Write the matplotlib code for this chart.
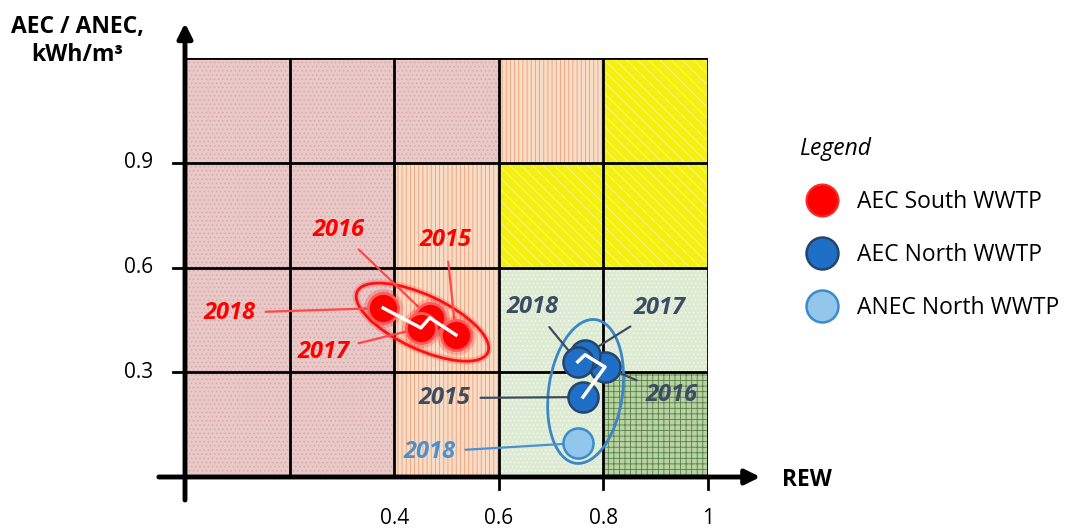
import numpy as np
import matplotlib
matplotlib.use("Agg")
import matplotlib.pyplot as plt
from matplotlib.patches import Ellipse
from matplotlib.lines import Line2D
import matplotlib.transforms as mtransforms

plt.rcParams['font.family'] = ['Open Sans', 'DejaVu Sans']
plt.rcParams['hatch.linewidth'] = 0.6

# grid of zones (rows from bottom, columns from left)
x_edges = [0.0, 0.2, 0.4, 0.6, 0.8, 1.0]
y_edges = [0.0, 0.3, 0.6, 0.9, 1.2]
zones = [
    ["P", "P", "O", "G", "D"],
    ["P", "P", "O", "G", "G"],
    ["P", "P", "O", "Y", "Y"],
    ["P", "P", "P", "O", "Y"],
]
x_ticks = [0.4, 0.6, 0.8, 1.0]
x_tick_labels = ["0.4", "0.6", "0.8", "1"]
y_ticks = [0.3, 0.6, 0.9]
y_tick_labels = ["0.3", "0.6", "0.9"]

# data
years = [2015, 2016, 2017, 2018]
south_rew = [0.518, 0.468, 0.451, 0.379]
south_aec = [0.407, 0.456, 0.427, 0.484]
north_rew = [0.761, 0.803, 0.765, 0.751]
north_aec = [0.229, 0.315, 0.350, 0.330]
anec_years = [2018]
anec_rew = [0.751]
anec_north = [0.097]

zone_style = {
    "P": dict(color="#e9c8c8", hatch="....", edgecolor="#d8a8aa"),
    "O": dict(color="#f8dcc6", hatch="||||", edgecolor="#eb9f78"),
    "Y": dict(color="#f4f010", hatch="\\\\\\", edgecolor="#f8f6a0"),
    "G": dict(color="#dcebd2", hatch="....", edgecolor="#f4f8f0"),
    "D": dict(color="#b9d2a3", hatch="+++", edgecolor="#557f45"),
}

fig = plt.figure(figsize=(10.65, 5.29), dpi=100)
ax = fig.add_axes([185 / 1065, 1 - 477 / 529, (708 - 185) / 1065, (477 - 58) / 529])
ax.set_xlim(0, 1)
ax.set_ylim(0, 1.2)
ax.axis("off")

for r in range(len(zones)):
    for c in range(len(zones[r])):
        st = zone_style[zones[r][c]]
        ax.bar(x_edges[c], y_edges[r + 1] - y_edges[r], width=x_edges[c + 1] - x_edges[c],
               bottom=y_edges[r], align="edge",
               color=st["color"], hatch=st["hatch"], edgecolor=st["edgecolor"],
               linewidth=0, zorder=1)

ax.vlines(x_edges[1:], 0, 1.2, colors="black", lw=2, zorder=2)
ax.hlines(y_edges[1:], 0, 1.0, colors="black", lw=2, zorder=2)

# axes arrows
ax.annotate("", xy=(1.10, 0), xytext=(-0.05, 0), annotation_clip=False,
            arrowprops=dict(arrowstyle="-|>", lw=3.5, color="black", mutation_scale=22,
                            shrinkA=0, shrinkB=0), zorder=5)
ax.annotate("", xy=(0, 1.30), xytext=(0, -0.066), annotation_clip=False,
            arrowprops=dict(arrowstyle="-|>", lw=3.5, color="black", mutation_scale=22,
                            shrinkA=0, shrinkB=0), zorder=5)
for xt in x_ticks[1:]:
    ax.plot([xt, xt], [0, -0.035], color="black", lw=2, clip_on=False, zorder=5)
for yt in y_ticks:
    ax.plot([-0.022, 0], [yt, yt], color="black", lw=2, clip_on=False, zorder=5)
for xt, lab in zip(x_ticks, x_tick_labels):
    ax.text(xt, -0.118, lab, ha="center", va="center", fontsize=15)
for yt, lab in zip(y_ticks, y_tick_labels):
    ax.text(-0.06, yt, lab, ha="right", va="center", fontsize=15)

fig.text(77 / 1065, 1 - 27 / 529, "AEC / ANEC,", ha="center", va="center",
         fontsize=16.5, fontweight="bold")
fig.text(77 / 1065, 1 - 55 / 529, "kWh/m³", ha="center", va="center",
         fontsize=16.5, fontweight="bold")
fig.text(807 / 1065, 1 - 480 / 529, "REW", ha="center", va="center",
         fontsize=16.5, fontweight="bold")

# ellipses (sized in inches, placed in data coordinates)
def add_ellipse(cx, cy, w, h, ang, color, glow):
    trans = fig.dpi_scale_trans + mtransforms.ScaledTranslation(cx, cy, ax.transData)
    if glow:
        ax.add_patch(Ellipse((0, 0), w, h, angle=ang, fill=False, lw=5, ec=color,
                             alpha=0.2, transform=trans, clip_on=False, zorder=3))
    ax.add_patch(Ellipse((0, 0), w, h, angle=ang, fill=False, lw=2, ec=color,
                         transform=trans, clip_on=False, zorder=3))

add_ellipse(np.mean(south_rew), np.mean(south_aec), 1.44, 0.54, -25, "#ff1010", True)
add_ellipse(0.766, 0.245, 0.74, 1.45, -8, "#3a86c8", False)

# points
red = "#ff0000"
ax.scatter(south_rew, south_aec, s=800, color=red, alpha=0.2, lw=0, zorder=4)
ax.scatter(south_rew, south_aec, s=470, color=red, edgecolor="#ff5a5a", lw=2, zorder=4)
ax.plot(south_rew, south_aec, color="white", lw=2.5, zorder=6)

ax.scatter(north_rew, north_aec, s=470, color="#1f6fc6", edgecolor="#24466e", lw=1.8, zorder=4)
ax.plot(north_rew, north_aec, color="white", lw=2.5, zorder=6)
ax.scatter(anec_rew, anec_north, s=470, color="#92c6ea", edgecolor="#3a8ccc", lw=1.8, zorder=4)

# labels
south_lab_pos = [(0.499, 0.679), (0.293, 0.708), (0.264, 0.358), (0.086, 0.470)]
north_lab_pos = [(0.497, 0.226), (0.931, 0.235), (0.908, 0.484), (0.665, 0.487)]
anec_lab_pos = [(0.468, 0.072)]

def label(x, y, tx, ty, text, color, lcolor):
    ax.annotate(text, xy=(x, y), xytext=(tx, ty), ha="center", va="center",
                fontsize=17, fontweight="bold", fontstyle="italic", color=color,
                arrowprops=dict(arrowstyle="-", color=lcolor, lw=1.6,
                                shrinkA=5, shrinkB=2), zorder=3)

for x, y, yr, p in zip(south_rew, south_aec, years, south_lab_pos):
    label(x, y, p[0], p[1], str(yr), "#ff0000", "#ff4848")
for x, y, yr, p in zip(north_rew, north_aec, years, north_lab_pos):
    label(x, y, p[0], p[1], str(yr), "#3c4c62", "#3c4c62")
for x, y, yr, p in zip(anec_rew, anec_north, anec_years, anec_lab_pos):
    label(x, y, p[0], p[1], str(yr), "#4a92cf", "#4a92cf")

# legend
handles = [
    Line2D([], [], ls="", marker="o", ms=23, mfc="#ff0000", mec="#ff2a2a", mew=1.5),
    Line2D([], [], ls="", marker="o", ms=23, mfc="#1f6fc6", mec="#24466e", mew=1.8),
    Line2D([], [], ls="", marker="o", ms=23, mfc="#92c6ea", mec="#3a8ccc", mew=1.8),
]
leg = fig.legend(handles, ["AEC South WWTP", "AEC North WWTP", "ANEC North WWTP"],
                 loc="upper left", bbox_to_anchor=(799 / 1065, 1 - 137 / 529),
                 frameon=False, fontsize=16.5, title="Legend", title_fontsize=16.5,
                 alignment="left", labelspacing=1.27, handletextpad=0.52,
                 handlelength=2.0, borderaxespad=0, borderpad=0)
leg.get_title().set_fontstyle("italic")

fig.savefig("out.png", dpi=100)
